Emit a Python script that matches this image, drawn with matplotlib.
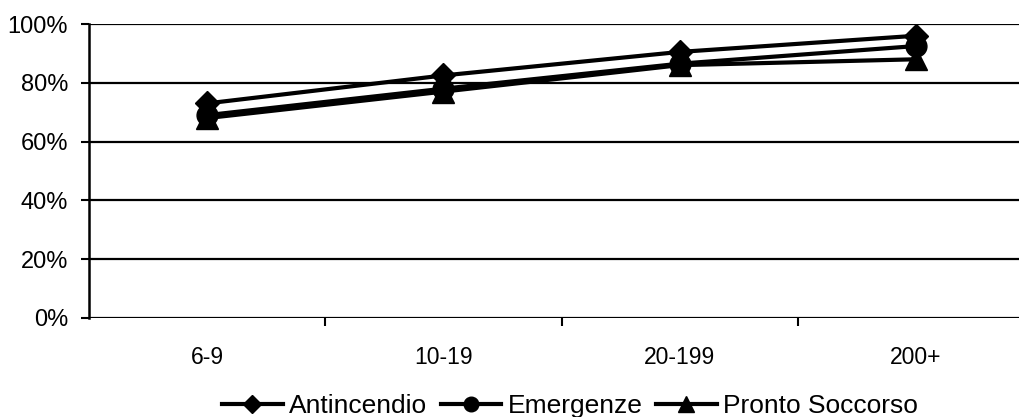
import numpy as np
import matplotlib
matplotlib.use('Agg')
import matplotlib.pyplot as plt
from matplotlib.ticker import FixedLocator, PercentFormatter

plt.rcParams['font.family'] = ['Liberation Sans', 'DejaVu Sans']

classi = ["6-9", "10-19", "20-199", "200+"]
antincendio = [73, 82.5, 90.5, 96]
emergenze = [69, 78, 86.5, 92.5]
pronto_soccorso = [68, 77, 86, 88]

fig = plt.figure(figsize=(10.19, 4.17), dpi=100)
# the plot area runs a little past the right edge of the figure
ax = fig.add_axes([89/1019, 1 - 318/417, 945/1019, 294/417])

x = np.arange(len(classi))
ax.plot(x, antincendio, color='black', lw=3, marker='D', ms=12.5, label='Antincendio', zorder=3)
ax.plot(x, emergenze, color='black', lw=3, marker='o', ms=15, label='Emergenze', zorder=3)
ax.plot(x, pronto_soccorso, color='black', lw=3, marker='^', ms=16.5, label='Pronto Soccorso', zorder=3)

ax.set_xlim(-0.5, len(classi) - 0.5)
ax.set_ylim(0, 100)
ax.set_yticks(np.arange(0, 101, 20))
ax.yaxis.set_major_formatter(PercentFormatter(decimals=0))
ax.yaxis.grid(True, color='black', lw=1.6)
ax.set_axisbelow(True)

ax.set_xticks(x)
ax.set_xticklabels(classi)
ax.xaxis.set_minor_locator(FixedLocator(np.arange(0.5, len(classi), 1.0)))
ax.tick_params(axis='x', which='major', length=0, pad=20, labelsize=16.5)
ax.tick_params(axis='x', which='minor', length=6, width=1.5, direction='out', color='black')
ax.tick_params(axis='y', length=6, width=1.5, direction='out', pad=9, labelsize=17)

for s in ['top', 'right', 'bottom']:
    ax.spines[s].set_visible(False)
ax.spines['left'].set_linewidth(1.8)

fig.legend(loc='center', bbox_to_anchor=(570/1019, 1 - 406/417), ncol=3, frameon=False,
           fontsize=19, handlelength=2.3, handletextpad=0.25, columnspacing=0.5,
           markerscale=0.7)

fig.savefig('out.png', dpi=100)
